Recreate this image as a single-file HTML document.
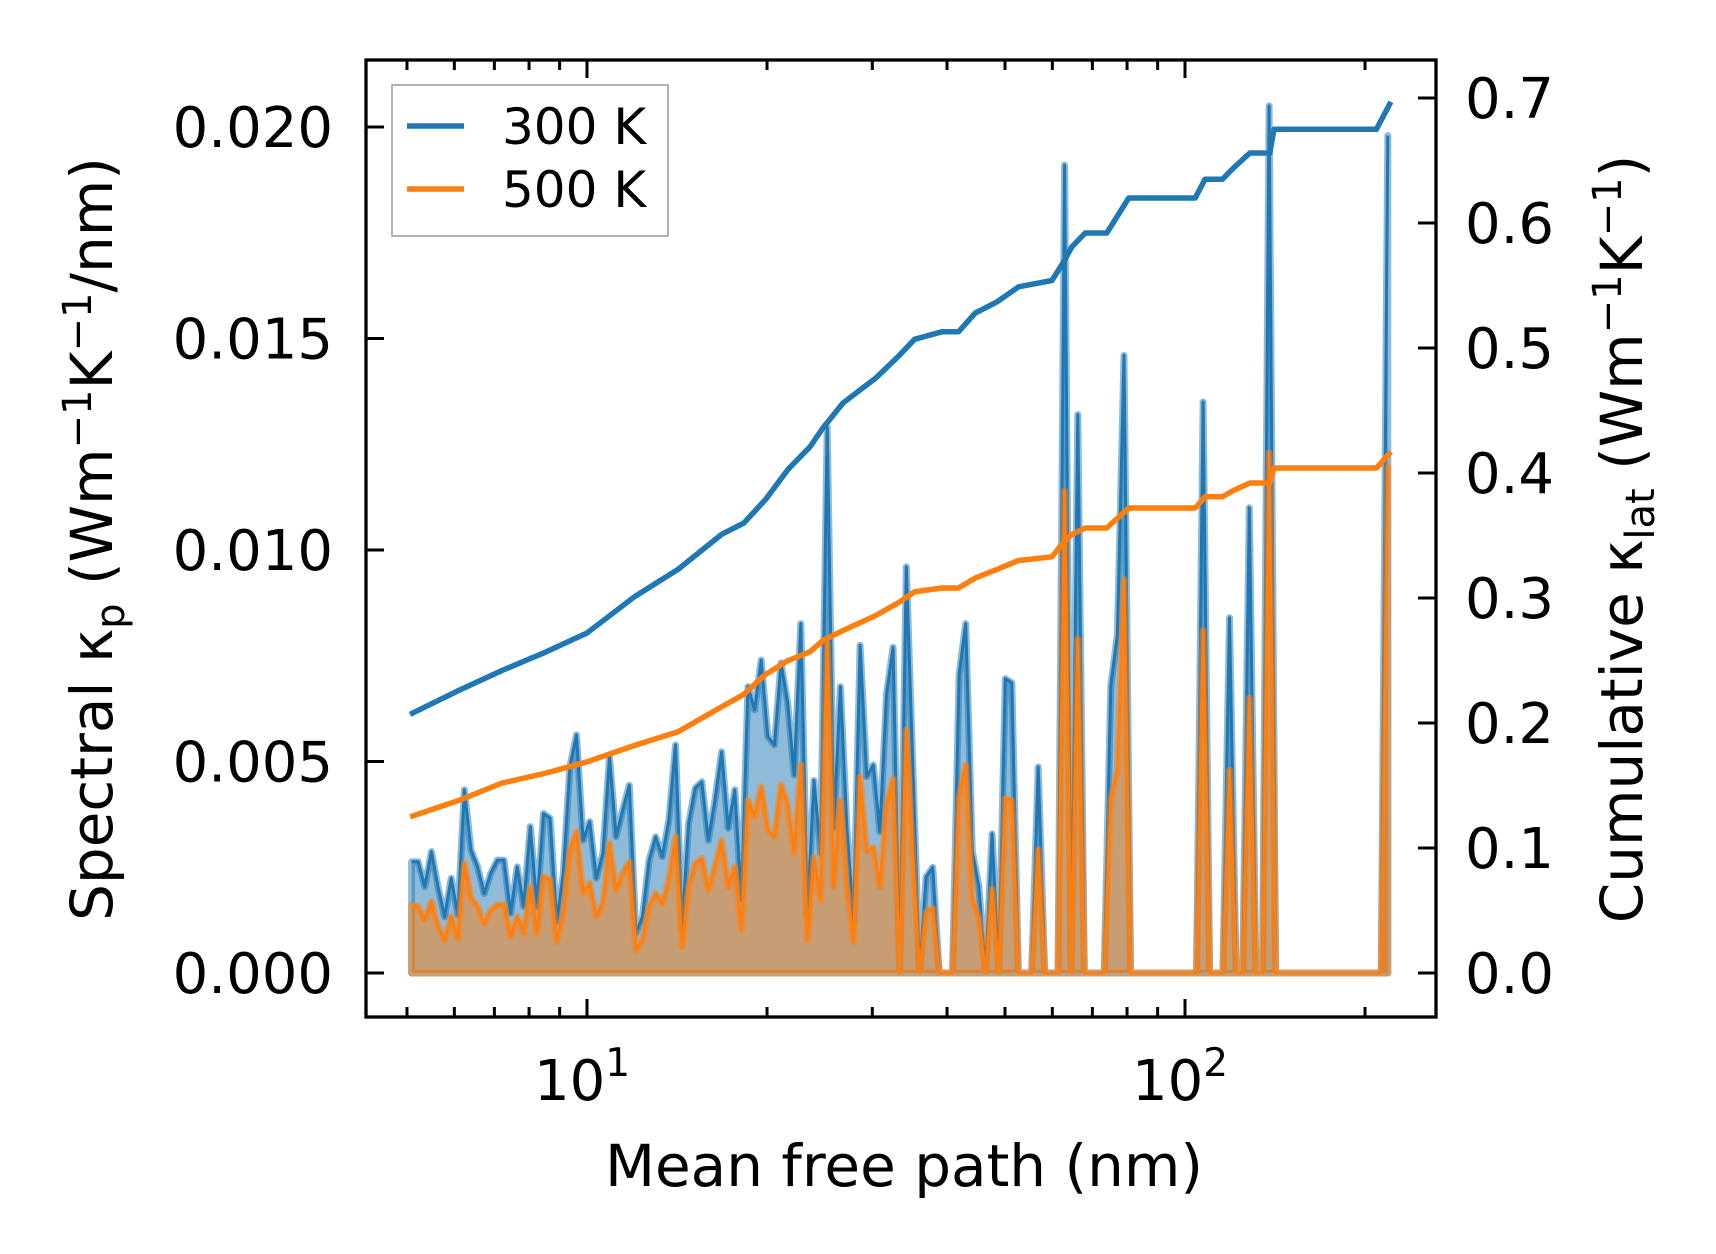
<!DOCTYPE html>
<html><head><meta charset="utf-8"><style>
html,body{margin:0;padding:0;background:#fff;}
svg{display:block;font-family:"DejaVu Sans","Liberation Sans",sans-serif;}
</style></head><body>
<svg id="chart" width="1716" height="1254" viewBox="0 0 1716 1254" xmlns="http://www.w3.org/2000/svg">
<rect x="0" y="0" width="1716" height="1254" fill="#fff"/>
<g id="plot"></g>
<g id="axes"></g>
</svg>
<script>
// ---- data ----
const binMinNm = 5.09;
const binLogStep = 0.01103;
const spectral300 = [2.63,2.63,2.04,2.87,2.04,1.33,2.24,1.37,4.33,2.91,2.51,1.88,2.36,2.67,2.67,1.41,2.51,1.57,3.46,1.57,3.77,3.66,1.21,2.36,4.88,5.63,3.14,3.58,2.24,2.83,5.11,3.22,3.85,4.44,0.94,1.33,2.67,3.22,2.75,3.62,5.39,1.06,3.54,4.37,4.52,3.14,4.09,5.23,3.42,4.33,1.73,6.77,6.22,7.40,5.59,5.39,
7.33,6.40,4.68,8.26,1.39,4.55,2.83,12.9,3.43,6.77,3.43,1.21,7.75,4.64,4.92,3.34,6.59,7.70,0,9.60,4.82,0,2.27,2.50,0,0,0,7.05,8.26,2.88,2.04,0,3.29,0,6.96,6.86,0,0,0,4.87,0,0,0,19.1,0,13.2,0,
0,0,0,6.8,8.0,14.6,0,0,0,0,0,0,0,0,0,0,0,13.5,0,0,0,8.4,0,0,11.0,0,0,20.5,0,0,0,0,0,0,0,0,0,0,0,0,0,0,0,0,0,19.8];
const spectral500 = [1.61,1.57,1.25,1.69,1.10,0.78,1.33,0.82,2.59,1.77,1.57,1.17,1.49,1.61,1.61,0.86,1.33,0.94,2.04,0.94,2.28,2.20,0.74,1.41,2.91,3.34,1.88,2.12,1.33,1.65,3.07,1.96,2.36,2.63,0.54,0.78,1.57,1.88,1.65,2.20,3.22,0.62,2.04,2.59,2.71,1.96,2.51,3.14,2.04,2.51,1.02,4.09,3.70,4.40,3.38,3.22,
4.45,3.99,2.83,4.92,0.79,2.74,1.72,7.79,2.04,4.08,2.04,0.74,4.64,2.88,2.97,2.04,3.99,4.59,0,5.75,2.69,0,1.44,1.53,0,0,0,4.17,4.92,1.76,1.30,0,1.99,0,4.13,4.08,0,0,0,2.92,0,0,0,11.4,0,7.9,0,
0,0,0,4.1,4.8,9.3,0,0,0,0,0,0,0,0,0,0,0,8.1,0,0,0,4.8,0,0,6.5,0,0,12.3,0,0,0,0,0,0,0,0,0,0,0,0,0,0,0,0,0,12.0];
const cumMfp = [5.06,6.10,7.21,8.55,10,12.0,14.2,16.8,18.3,19.9,21.7,23.6,24.8,26.8,30.4,33.1,35.3,39.2,41.8,44.6,48.5,52.7,59.9,62.5,64.7,68.1,74.0,80.5,104,108,115.5,120.5,128.4,138.6,140.9,209,221];
const cum300 = [0.207,0.226,0.242,0.257,0.272,0.301,0.323,0.351,0.360,0.379,0.403,0.421,0.436,0.456,0.476,0.493,0.507,0.513,0.513,0.528,0.537,0.549,0.554,0.568,0.581,0.592,0.592,0.620,0.620,0.635,0.635,0.644,0.656,0.656,0.675,0.675,0.697];
const cum500 = [0.125,0.138,0.152,0.160,0.169,0.182,0.193,0.213,0.223,0.239,0.250,0.257,0.266,0.274,0.286,0.296,0.305,0.308,0.308,0.316,0.323,0.330,0.333,0.344,0.351,0.356,0.356,0.372,0.372,0.381,0.381,0.386,0.392,0.392,0.404,0.404,0.417];
const leftTicks = [0, 0.005, 0.010, 0.015, 0.020];
const leftTickLabels = ["0.000","0.005","0.010","0.015","0.020"];
const rightTicks = [0,0.1,0.2,0.3,0.4,0.5,0.6,0.7];
const rightTickLabels = ["0.0","0.1","0.2","0.3","0.4","0.5","0.6","0.7"];
const xMajor = [10, 100];
const xMinor = [5,6,7,8,9,20,30,40,50,60,70,80,90,200];

// ---- layout ----
const L=366, R=1436, T=60, B=1017;
const X10=587, DEC=598;
const NS="http://www.w3.org/2000/svg";
const xs = v => X10 + (Math.log10(v)-1)*DEC;
const yl = v => 973 - v/0.005*211.5;
const yr = v => 973 - v/0.1*125;
const plot=document.getElementById('plot'), axes=document.getElementById('axes');
function mk(tag, attrs, parent){const e=document.createElementNS(NS,tag);for(const k in attrs)e.setAttribute(k,attrs[k]);parent.appendChild(e);return e;}
const binX = i => binMinNm*Math.pow(10, i*binLogStep);

function spectralSeries(vals, color, name){
  const pts = vals.map((v,i)=>[xs(binX(i)), yl(v/1000)]);
  const x0=pts[0][0], xn=pts[pts.length-1][0], y0=yl(0);
  let d=`M${x0},${y0} `+pts.map(p=>`L${p[0].toFixed(1)},${p[1].toFixed(1)}`).join(' ')+` L${xn},${y0} Z`;
  const f=mk('path',{d:d,fill:color,'fill-opacity':0.5,stroke:color,'stroke-opacity':0.5,'stroke-width':7,'stroke-linejoin':'round'},plot);
  
  
  const l=mk('polyline',{points:pts.map(p=>p[0].toFixed(1)+','+p[1].toFixed(1)).join(' '),fill:'none',stroke:color,'stroke-width':3,'stroke-linejoin':'round'},plot);
  
  
}
spectralSeries(spectral300,'#1f77b4','spectral-300k');
spectralSeries(spectral500,'#ff7f0e','spectral-500k');

function cumLine(vals,color,name){
  const p=mk('polyline',{points:vals.map((v,i)=>xs(cumMfp[i]).toFixed(1)+','+yr(v).toFixed(1)).join(' '),fill:'none',stroke:color,'stroke-width':5.5,'stroke-linejoin':'round'},plot);
  
  
}
cumLine(cum300,'#1f77b4','cumulative-300k-line');
cumLine(cum500,'#ff7f0e','cumulative-500k-line');

const fr=mk('rect',{x:L,y:T,width:R-L,height:B-T,fill:'none',stroke:'#000','stroke-width':3.3},axes);



function tick(x1,y1,x2,y2){mk('line',{x1:x1,y1:y1,x2:x2,y2:y2,stroke:'#000','stroke-width':3},axes);}
function txt(s,x,y,anchor,size,name){const t=mk('text',{x:x,y:y,'text-anchor':anchor,'font-size':size,fill:'#000'},axes);t.textContent=s;return t;}

leftTicks.forEach((v,i)=>{const y=yl(v);tick(L,y,L+18,y);txt(leftTickLabels[i],333,y+20,'end',56,'left-tick-label');});
rightTicks.forEach((v,i)=>{const y=yr(v);tick(R,y,R-18,y);txt(rightTickLabels[i],1465,y+20,'start',56,'right-tick-label');});
xMajor.forEach(v=>{const x=xs(v);tick(x,B,x,B-18);tick(x,T,x,T+18);
  const t=txt('',x-5,1100,'middle',56,'x-tick-label');t.textContent='10';
  const s=mk('tspan',{dy:-24,'font-size':39},t);s.textContent=v===10?'1':'2';});
xMinor.forEach(v=>{const x=xs(v);tick(x,B,x,B-10);tick(x,T,x,T+10);});

txt('Mean free path (nm)',904,1186,'middle',58,'x-axis-title');
const yt=txt('',0,0,'middle',58,'left-y-axis-title');
yt.setAttribute('transform','translate(112,539) rotate(-90)');
yt.innerHTML='Spectral κ<tspan font-size="40" dy="12">p</tspan><tspan dy="-12"> (Wm</tspan><tspan font-size="40" dy="-21">−1</tspan><tspan dy="21">K</tspan><tspan font-size="40" dy="-21">−1</tspan><tspan dy="21">/nm)</tspan>';
const yt2=txt('',0,0,'middle',58,'right-y-axis-title');
yt2.setAttribute('transform','translate(1642,539) rotate(-90)');
yt2.innerHTML='Cumulative κ<tspan font-size="40" dy="12">lat</tspan><tspan dy="-12"> (Wm</tspan><tspan font-size="40" dy="-21">−1</tspan><tspan dy="21">K</tspan><tspan font-size="40" dy="-21">−1</tspan><tspan dy="21">)</tspan>';

const lg=mk('g',{},axes);


mk('rect',{x:392,y:85,width:276,height:151,fill:'#fff','fill-opacity':0.8,stroke:'#999','stroke-width':1.5},lg);
[['300 K','#1f77b4',126],['500 K','#ff7f0e',189]].forEach(e=>{
  const li=mk('line',{x1:407,y1:e[2],x2:464,y2:e[2],stroke:e[1],'stroke-width':5.5},lg);
  
  
  const t=mk('text',{x:502,y:e[2]+18,'font-size':50,fill:'#000'},lg);t.textContent=e[0];
  
  
});
</script>
</body></html>
